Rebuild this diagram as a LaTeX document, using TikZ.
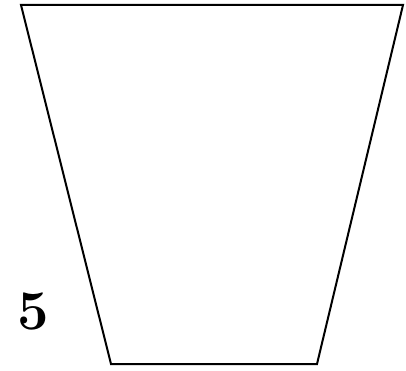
\documentclass[tikz,border=0pt]{standalone}
\usepackage{tikz}
\tikzset{
  outline/.style={draw=black,line width=2pt,line join=miter,fill=white},
  numlabel/.style={font=\fontsize{56}{56}\selectfont\bfseries,inner sep=0pt}
}
\begin{document}
\begin{tikzpicture}[x=1pt,y=-1pt]
  \useasboundingbox (0,0) rectangle (406,371);
  % trapezoid
  \coordinate (tl) at (21,5);
  \coordinate (tr) at (403,5);
  \coordinate (br) at (317,364);
  \coordinate (bl) at (111,364);
  \draw[outline] (tl) -- (tr) -- (br) -- (bl) -- cycle;
  \node[numlabel] (num) at (33,311) {5};
\end{tikzpicture}
\end{document}
